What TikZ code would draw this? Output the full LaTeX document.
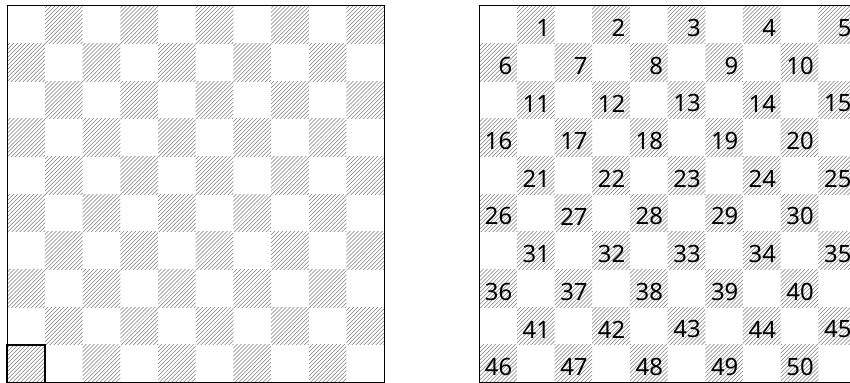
\documentclass[tikz,border=0pt]{standalone}
\usepackage{fontspec}
\setmainfont{Noto Sans}
\usetikzlibrary{patterns, positioning}

\begin{document}
\begin{tikzpicture}
        % Styles
        \tikzstyle{dark} = [pattern=north east lines, pattern color=gray]
        \tikzstyle{frame} = [draw, line width=0.8pt]
        \tikzstyle{num} = [anchor=south east, inner xsep=3.3pt, inner ysep=4.8pt, font=\fontsize{18}{21}\selectfont]

        \useasboundingbox (-0.194,-0.01) rectangle (22.36,10.15);

        % Boards
        \foreach \bx in {0, 12.52} {
            \foreach \r in {1,...,10}
                \foreach \k in {1,...,5} {
                    \pgfmathtruncatemacro{\c}{2*\k - mod(\r+1,2)}
                    \fill [dark] (\bx+\c-1, 10-\r) rectangle ++(1,1);
                }
            \draw [frame] (\bx,0) rectangle ++(10,10);
        }

        % Numbers
        \foreach \r in {1,...,10}
            \foreach \k in {1,...,5} {
                \pgfmathtruncatemacro{\c}{2*\k - mod(\r+1,2)}
                \pgfmathtruncatemacro{\n}{5*(\r-1)+\k}
                \node [num] (sq\n) at (12.52+\c, 10-\r) {\n};
            }

        % Start square
        \draw [line width=1.4pt] (0,0) rectangle (1,1);
    \end{tikzpicture}
\end{document}
